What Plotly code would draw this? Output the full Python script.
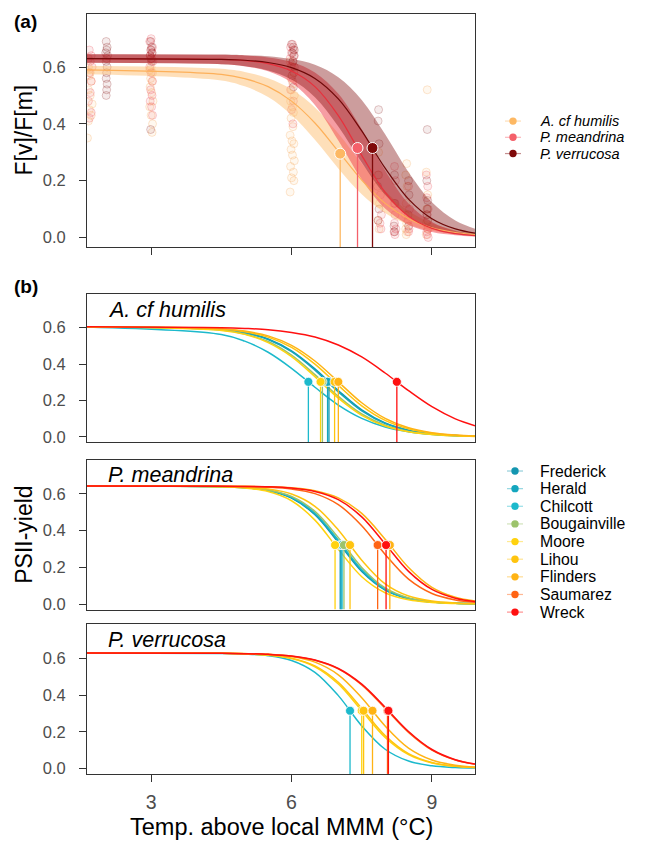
import plotly.graph_objects as go

W, H = 649, 842

# ---------------- data ----------------
temp_grid = [1.63, 4.5, 5.0, 5.5, 6.0, 6.5, 7.0, 7.5, 8.0, 8.5, 9.0, 9.5, 9.92]
x_ticks = [3, 6, 9]
y_ticks = [0.0, 0.2, 0.4, 0.6]
y_ticklabels = ["0.0", "0.2", "0.4", "0.6"]

species = ["A. cf humilis", "P. meandrina", "P. verrucosa"]
species_colors = ["#FDB863", "#F4606A", "#7F0A0A"]
band_colors = ["rgba(253,184,99,0.45)", "rgba(238,60,72,0.5)", "rgba(127,10,10,0.4)"]
point_fill = ["rgba(253,184,99,0.10)", "rgba(240,80,92,0.10)", "rgba(127,10,10,0.08)"]
point_line = ["rgba(245,160,80,0.25)", "rgba(235,70,85,0.25)", "rgba(127,10,10,0.22)"]

# panel (a): fitted curves and confidence bands
fit_humilis = [0.590, 0.574, 0.559, 0.531, 0.480, 0.403, 0.303, 0.202, 0.120, 0.066, 0.034, 0.0174, 0.0097]
fit_meandrina = [0.630, 0.627, 0.623, 0.612, 0.586, 0.531, 0.429, 0.289, 0.159, 0.0747, 0.032, 0.0132, 0.0062]
fit_verrucosa = [0.630, 0.627, 0.624, 0.616, 0.598, 0.560, 0.488, 0.375, 0.244, 0.135, 0.066, 0.030, 0.0152]
hi_humilis = [0.605, 0.594, 0.583, 0.561, 0.522, 0.458, 0.366, 0.260, 0.1635, 0.093, 0.0497, 0.0255, 0.0143]
lo_humilis = [0.575, 0.553, 0.532, 0.495, 0.432, 0.344, 0.243, 0.152, 0.0865, 0.046, 0.0236, 0.0118, 0.0066]
hi_meandrina = [0.645, 0.643, 0.6405, 0.634, 0.618, 0.581, 0.506, 0.381, 0.236, 0.120, 0.054, 0.0227, 0.0107]
lo_meandrina = [0.615, 0.610, 0.603, 0.585, 0.5455, 0.466, 0.341, 0.204, 0.1017, 0.045, 0.0188, 0.0076, 0.0035]
hi_verrucosa = [0.645, 0.644, 0.642, 0.638, 0.628, 0.608, 0.564, 0.484, 0.363, 0.230, 0.124, 0.060, 0.031]
lo_verrucosa = [0.615, 0.610, 0.603, 0.588, 0.556, 0.494, 0.391, 0.264, 0.150, 0.075, 0.0345, 0.0153, 0.0076]
ed50_a_x = [7.04, 7.41, 7.73]
ed50_a_y = [0.295, 0.315, 0.315]

# panel (a): observations
obs_humilis_x = [1.66, 1.70, 1.68, 1.72, 1.66, 1.70, 1.74, 1.68, 1.72, 1.66, 1.64,
                 3.00, 2.97, 3.03, 2.99, 3.02, 2.98, 3.01, 3.04, 2.97, 3.00, 3.03, 3.02,
                 5.97, 6.02, 6.05, 5.99, 6.03, 6.00, 6.06, 5.98, 6.02, 6.04, 5.99, 6.03, 5.97, 6.01, 6.05, 5.99, 6.02, 6.06, 5.98, 6.04, 6.00, 6.05, 5.97,
                 7.86, 7.84, 7.88, 7.85, 7.87,
                 8.46, 8.44, 8.47, 8.45, 8.43, 8.46, 8.44, 8.47, 8.45,
                 8.90, 8.88, 8.91, 8.89, 8.90, 8.92, 8.88]
obs_humilis_y = [0.60, 0.58, 0.57, 0.55, 0.52, 0.50, 0.47, 0.45, 0.43, 0.41, 0.35,
                 0.60, 0.59, 0.58, 0.56, 0.55, 0.53, 0.51, 0.48, 0.46, 0.43, 0.40, 0.37,
                 0.62, 0.60, 0.58, 0.56, 0.54, 0.52, 0.50, 0.48, 0.46, 0.44, 0.42, 0.39, 0.36, 0.34, 0.33, 0.31, 0.29, 0.27, 0.25, 0.23, 0.21, 0.20, 0.16,
                 0.30, 0.22, 0.12, 0.06, 0.03,
                 0.26, 0.22, 0.18, 0.12, 0.08, 0.05, 0.03, 0.02, 0.01,
                 0.52, 0.23, 0.15, 0.10, 0.06, 0.03, 0.01]
obs_meandrina_x = [1.68, 1.72, 1.66, 1.70, 1.74, 1.68, 1.72, 1.70, 1.66, 1.72, 1.68,
                   3.00, 2.97, 3.03, 2.99, 3.02, 2.98, 3.01, 3.04, 2.97, 3.00, 3.03, 2.99, 3.02, 2.98, 3.01, 3.03,
                   6.02, 5.98, 6.04, 6.00, 6.06, 5.97, 6.03, 6.01, 5.99, 6.05, 6.02, 5.98, 6.04, 6.00, 6.03,
                   7.90, 7.92, 7.89, 7.91,
                   8.20, 8.22, 8.19, 8.21, 8.20, 8.23, 8.19, 8.21,
                   8.50, 8.52, 8.49, 8.51, 8.50,
                   8.88, 8.91, 8.89, 8.92, 8.90, 8.88, 8.91, 8.89, 8.90, 8.92]
obs_meandrina_y = [0.66, 0.64, 0.63, 0.62, 0.60, 0.58, 0.55, 0.51, 0.48, 0.44, 0.42,
                   0.70, 0.69, 0.67, 0.66, 0.65, 0.64, 0.63, 0.62, 0.60, 0.58, 0.55, 0.52, 0.50, 0.48, 0.46, 0.43,
                   0.68, 0.67, 0.66, 0.65, 0.64, 0.63, 0.62, 0.61, 0.60, 0.58, 0.55, 0.52, 0.48, 0.45, 0.40,
                   0.15, 0.08, 0.05, 0.03,
                   0.25, 0.20, 0.12, 0.08, 0.05, 0.03, 0.02, 0.01,
                   0.18, 0.10, 0.06, 0.03, 0.02,
                   0.22, 0.18, 0.14, 0.10, 0.08, 0.05, 0.03, 0.02, 0.01, 0.00]
obs_verrucosa_x = [2.04, 2.06, 2.05, 2.03, 2.07, 2.05, 2.04, 2.06, 2.05, 2.04, 2.06, 2.05, 2.04,
                   2.99, 3.01, 3.00, 3.02, 2.98, 3.00, 3.01, 2.99,
                   6.00, 6.04, 6.06, 6.02, 6.05, 6.03, 6.06, 6.01, 6.04,
                   7.86, 7.85, 7.87, 7.86, 7.84, 7.87, 7.85,
                   8.20, 8.21, 8.19, 8.20,
                   8.50, 8.51, 8.49, 8.50,
                   8.90, 8.89, 8.91, 8.90, 8.89, 8.91]
obs_verrucosa_y = [0.69, 0.67, 0.66, 0.65, 0.64, 0.63, 0.62, 0.60, 0.58, 0.56, 0.54, 0.52, 0.50,
                   0.69, 0.67, 0.66, 0.65, 0.64, 0.63, 0.62, 0.38,
                   0.68, 0.67, 0.66, 0.65, 0.64, 0.62, 0.60, 0.57, 0.53,
                   0.45, 0.41, 0.33, 0.22, 0.18, 0.10, 0.06,
                   0.22, 0.12, 0.04, 0.02,
                   0.20, 0.15, 0.08, 0.04,
                   0.38, 0.20, 0.13, 0.10, 0.08, 0.06]

# panel (b): sites
sites = ["Frederick", "Herald", "Chilcott", "Bougainville", "Moore", "Lihou", "Flinders", "Saumarez", "Wreck"]
site_colors = ["#1496B0", "#14A6BE", "#1CB9CC", "#9CC36B", "#FFD20F", "#FFC40F", "#FFB314", "#FF6414", "#FF1010"]

humilis_sites = {
    "Frederick": [0.605, 0.590, 0.573, 0.538, 0.473, 0.374, 0.255, 0.149, 0.077, 0.037, 0.0174, 0.0079, 0.0041],
    "Herald": [0.605, 0.589, 0.571, 0.535, 0.468, 0.367, 0.247, 0.143, 0.074, 0.036, 0.0166, 0.0076, 0.0039],
    "Chilcott": [0.604, 0.563, 0.526, 0.465, 0.377, 0.273, 0.175, 0.102, 0.055, 0.029, 0.0146, 0.0074, 0.0041],
    "Bougainville": [0.605, 0.587, 0.565, 0.524, 0.449, 0.342, 0.223, 0.126, 0.064, 0.030, 0.014, 0.0064, 0.0033],
    "Moore": [0.605, 0.585, 0.563, 0.518, 0.441, 0.331, 0.213, 0.119, 0.060, 0.028, 0.013, 0.006, 0.003],
    "Lihou": [0.605, 0.593, 0.578, 0.548, 0.492, 0.400, 0.283, 0.171, 0.091, 0.0447, 0.0209, 0.0096, 0.0049],
    "Flinders": [0.605, 0.594, 0.581, 0.555, 0.503, 0.417, 0.3025, 0.1876, 0.1016, 0.0503, 0.0237, 0.0109, 0.0056],
    "Wreck": [0.605, 0.600, 0.596, 0.589, 0.574, 0.549, 0.505, 0.439, 0.351, 0.254, 0.166, 0.0995, 0.0619],
}
humilis_ed50 = {"Frederick": 6.80, "Herald": 6.77, "Chilcott": 6.36, "Bougainville": 6.66,
                "Moore": 6.62, "Lihou": 6.92, "Flinders": 7.00, "Wreck": 8.25}
humilis_half = 0.3025

meandrina_sites = {
    "Frederick": [0.643, 0.640, 0.634, 0.619, 0.578, 0.4865, 0.335, 0.177, 0.0756, 0.0286, 0.0103, 0.0037, 0.0015],
    "Herald": [0.643, 0.640, 0.635, 0.620, 0.580, 0.491, 0.342, 0.183, 0.0784, 0.0298, 0.0108, 0.0038, 0.0016],
    "Chilcott": [0.643, 0.640, 0.635, 0.6205, 0.583, 0.496, 0.348, 0.188, 0.0814, 0.0310, 0.0112, 0.0040, 0.0016],
    "Bougainville": [0.643, 0.640, 0.636, 0.622, 0.587, 0.5055, 0.362, 0.1996, 0.0875, 0.0336, 0.0122, 0.0043, 0.0018],
    "Moore": [0.643, 0.639, 0.632, 0.613, 0.563, 0.4575, 0.298, 0.149, 0.0615, 0.0229, 0.0082, 0.0029, 0.0012],
    "Lihou": [0.643, 0.641, 0.637, 0.627, 0.5996, 0.533, 0.404, 0.239, 0.110, 0.0434, 0.0159, 0.0057, 0.0024],
    "Flinders": [0.643, 0.6425, 0.642, 0.6395, 0.6335, 0.618, 0.579, 0.494, 0.3535, 0.1993, 0.0912, 0.0369, 0.0164],
    "Saumarez": [0.643, 0.642, 0.641, 0.637, 0.627, 0.602, 0.542, 0.427, 0.2705, 0.1356, 0.0575, 0.0224, 0.0099],
    "Wreck": [0.643, 0.642, 0.641, 0.639, 0.632, 0.614, 0.569, 0.475, 0.328, 0.178, 0.0794, 0.0317, 0.0141],
}
meandrina_ed50 = {"Frederick": 7.04, "Herald": 7.06, "Chilcott": 7.08, "Bougainville": 7.12, "Moore": 6.93,
                  "Lihou": 7.25, "Flinders": 8.10, "Saumarez": 7.84, "Wreck": 8.02}
meandrina_half = 0.3215

verrucosa_sites = {
    "Chilcott": [0.629, 0.627, 0.624, 0.615, 0.589, 0.524, 0.397, 0.232, 0.1046, 0.0401, 0.0143, 0.0049, 0.0020],
    "Moore": [0.629, 0.6275, 0.625, 0.618, 0.599, 0.554, 0.460, 0.3145, 0.169, 0.075, 0.0298, 0.0113, 0.0049],
    "Lihou": [0.629, 0.6276, 0.625, 0.6185, 0.601, 0.559, 0.4695, 0.327, 0.179, 0.0804, 0.0322, 0.0122, 0.0053],
    "Flinders": [0.629, 0.628, 0.6263, 0.622, 0.610, 0.5795, 0.5105, 0.3856, 0.2316, 0.1110, 0.0460, 0.0177, 0.0078],
    "Saumarez": [0.629, 0.628, 0.626, 0.622, 0.612, 0.590, 0.5426, 0.455, 0.328, 0.1967, 0.1003, 0.0461, 0.0230],
    "Wreck": [0.629, 0.628, 0.626, 0.622, 0.6126, 0.591, 0.545, 0.4595, 0.3337, 0.2014, 0.1033, 0.0476, 0.0238],
}
verrucosa_ed50 = {"Chilcott": 7.25, "Moore": 7.50, "Lihou": 7.54, "Flinders": 7.73, "Saumarez": 8.05, "Wreck": 8.07}
verrucosa_half = 0.3145

# ---------------- layout helpers ----------------
FONT = "Liberation Sans, Arial, Helvetica, sans-serif"
AX = "#333333"
XR = [1.63, 9.92]
YR_A = [-0.034, 0.787]
YR_B = [-0.03, 0.785]


def py(p):
    return 1 - p / H


def pxx(p):
    return p / W


x_dom = [pxx(87), pxx(475)]
doms = [[py(248), py(14)], [py(444), py(295)], [py(611.7), py(461.7)], [py(776.7), py(626.7)]]

fig = go.Figure()

# ---------------- panel (a) ----------------
obs = [(obs_humilis_x, obs_humilis_y), (obs_meandrina_x, obs_meandrina_y), (obs_verrucosa_x, obs_verrucosa_y)]
for i, (ox, oy) in enumerate(obs):
    fig.add_trace(go.Scatter(x=ox, y=oy, mode="markers", xaxis="x", yaxis="y", showlegend=False,
                             marker=dict(size=8, color=point_fill[i], line=dict(color=point_line[i], width=1))))

bands = [(lo_humilis, hi_humilis), (lo_meandrina, hi_meandrina), (lo_verrucosa, hi_verrucosa)]
for i, (lo, hi) in enumerate(bands):
    fig.add_trace(go.Scatter(x=temp_grid, y=lo, mode="lines", line=dict(width=0, shape="spline"),
                             xaxis="x", yaxis="y", showlegend=False, hoverinfo="skip"))
    fig.add_trace(go.Scatter(x=temp_grid, y=hi, mode="lines", line=dict(width=0, shape="spline"),
                             fill="tonexty", fillcolor=band_colors[i],
                             xaxis="x", yaxis="y", showlegend=False, hoverinfo="skip"))

fits = [fit_humilis, fit_meandrina, fit_verrucosa]
line_cols_a = ["#FDB05A", "#E8303C", "#6E0808"]
for i, f in enumerate(fits):
    fig.add_trace(go.Scatter(x=temp_grid, y=f, mode="lines", line=dict(color=line_cols_a[i], width=1.2, shape="spline"),
                             xaxis="x", yaxis="y", showlegend=False, name=species[i]))
for i in range(3):
    fig.add_trace(go.Scatter(x=[ed50_a_x[i], ed50_a_x[i]], y=[YR_A[0], ed50_a_y[i]], mode="lines",
                             line=dict(color=species_colors[i], width=1.3), xaxis="x", yaxis="y", showlegend=False))
for i in range(3):
    fig.add_trace(go.Scatter(x=[ed50_a_x[i]], y=[ed50_a_y[i]], mode="markers", xaxis="x", yaxis="y", showlegend=False,
                             marker=dict(size=11, color=species_colors[i], line=dict(color="white", width=1))))

# ---------------- panel (b) ----------------
panels = [(humilis_sites, humilis_ed50, humilis_half), (meandrina_sites, meandrina_ed50, meandrina_half),
          (verrucosa_sites, verrucosa_ed50, verrucosa_half)]
for k, (curves, eds, half) in enumerate(panels):
    xa, ya = "x%d" % (k + 2), "y%d" % (k + 2)
    for s, c in zip(sites, site_colors):
        if s in curves:
            fig.add_trace(go.Scatter(x=temp_grid, y=curves[s], mode="lines", name=s, showlegend=False,
                                     line=dict(color=c, width=1.5, shape="spline"), xaxis=xa, yaxis=ya))
    for s, c in zip(sites, site_colors):
        if s in eds:
            fig.add_trace(go.Scatter(x=[eds[s], eds[s]], y=[YR_B[0], half], mode="lines", showlegend=False,
                                     line=dict(color=c, width=1.3), xaxis=xa, yaxis=ya))
    for s, c in zip(sites, site_colors):
        if s in eds:
            fig.add_trace(go.Scatter(x=[eds[s]], y=[half], mode="markers", showlegend=False,
                                     marker=dict(size=9, color=c, line=dict(color="white", width=0.8)),
                                     xaxis=xa, yaxis=ya))

# ---------------- axes ----------------
base_ax = dict(showline=True, mirror=True, linecolor=AX, linewidth=1.1, showgrid=False, zeroline=False)
layout = dict(width=W, height=H, autosize=False, margin=dict(l=0, r=0, t=0, b=0),
              paper_bgcolor="white", plot_bgcolor="white", showlegend=False,
              font=dict(family=FONT, color="black"))
for k in range(4):
    xn = "xaxis" if k == 0 else "xaxis%d" % (k + 1)
    yn = "yaxis" if k == 0 else "yaxis%d" % (k + 1)
    anchor_y = "y" if k == 0 else "y%d" % (k + 1)
    anchor_x = "x" if k == 0 else "x%d" % (k + 1)
    xa = dict(base_ax, domain=x_dom, range=XR, anchor=anchor_y, tickvals=x_ticks,
              ticktext=[str(t) for t in x_ticks])
    if k == 0:
        xa.update(ticks="outside", ticklen=7, tickwidth=1.1, tickcolor=AX, showticklabels=False)
    elif k == 3:
        xa.update(ticks="outside", ticklen=7, tickwidth=1.1, tickcolor=AX, showticklabels=True,
                  tickfont=dict(size=19.5, color="#4D4D4D", family=FONT), ticklabelstandoff=4)
    else:
        xa.update(ticks="", showticklabels=False)
    yr = YR_A if k == 0 else YR_B
    ya = dict(base_ax, domain=doms[k], range=yr, anchor=anchor_x, tickvals=y_ticks, ticktext=y_ticklabels,
              ticks="outside", ticklen=7, tickwidth=1.1, tickcolor=AX,
              tickfont=dict(size=16.5, color="#4D4D4D", family=FONT), ticklabelstandoff=10)
    layout[xn] = xa
    layout[yn] = ya

annotations = []
# panel labels
annotations.append(dict(text="<b>(a)</b>", x=pxx(12), y=py(22), xref="paper", yref="paper",
                        xanchor="left", yanchor="middle", showarrow=False, font=dict(size=19, family=FONT)))
annotations.append(dict(text="<b>(b)</b>", x=pxx(12), y=py(288), xref="paper", yref="paper",
                        xanchor="left", yanchor="middle", showarrow=False, font=dict(size=19, family=FONT)))
# axis titles
annotations.append(dict(text="F[v]/F[m]", x=pxx(24), y=(doms[0][0] + doms[0][1]) / 2, xref="paper", yref="paper",
                        textangle=-90, xanchor="center", yanchor="middle", showarrow=False,
                        font=dict(size=23, family=FONT)))
annotations.append(dict(text="PSII-yield", x=pxx(24), y=(doms[2][0] + doms[2][1]) / 2, xref="paper", yref="paper",
                        textangle=-90, xanchor="center", yanchor="middle", showarrow=False,
                        font=dict(size=23, family=FONT)))
annotations.append(dict(text="Temp. above local MMM (°C)", x=(x_dom[0] + x_dom[1]) / 2, y=py(830),
                        xref="paper", yref="paper", xanchor="center", yanchor="middle", showarrow=False,
                        font=dict(size=23.5, family=FONT)))
# species labels in panel b
label_y = [311.5, 477, 642.5]
for k in range(3):
    annotations.append(dict(text="<i>%s</i>" % species[k], x=pxx(106), y=py(label_y[k]), xref="paper", yref="paper",
                            xanchor="left", yanchor="middle", showarrow=False, font=dict(size=21.5, family=FONT)))

shapes = []


def legend_entry(cx, cy, color, label, italic, size):
    r = 3.7
    shapes.append(dict(type="line", xref="paper", yref="paper", x0=pxx(cx - 8), x1=pxx(cx + 8), y0=py(cy), y1=py(cy),
                       line=dict(color=color, width=1.2), opacity=0.45))
    shapes.append(dict(type="circle", xref="paper", yref="paper", x0=pxx(cx - r), x1=pxx(cx + r),
                       y0=py(cy + r), y1=py(cy - r), fillcolor=color, line=dict(color=color, width=0)))
    txt = "<i>%s</i>" % label if italic else label
    annotations.append(dict(text=txt, x=pxx(538), y=py(cy), xref="paper", yref="paper", xanchor="left",
                            yanchor="middle", showarrow=False, font=dict(size=size, family=FONT)))


legend_a_y = [121.5, 137.8, 154.1]
for i in range(3):
    legend_entry(513, legend_a_y[i], species_colors[i], species[i], True, 14.5)
for j, (s, c) in enumerate(zip(sites, site_colors)):
    legend_entry(515, 472.7 + 17.7 * j, c, s, False, 15.8)

layout["annotations"] = annotations
layout["shapes"] = shapes
fig.update_layout(**layout)

fig.write_html("out.html", config={"displayModeBar": False},
               post_script="document.body.style.margin='0';document.body.style.overflow='hidden';")
